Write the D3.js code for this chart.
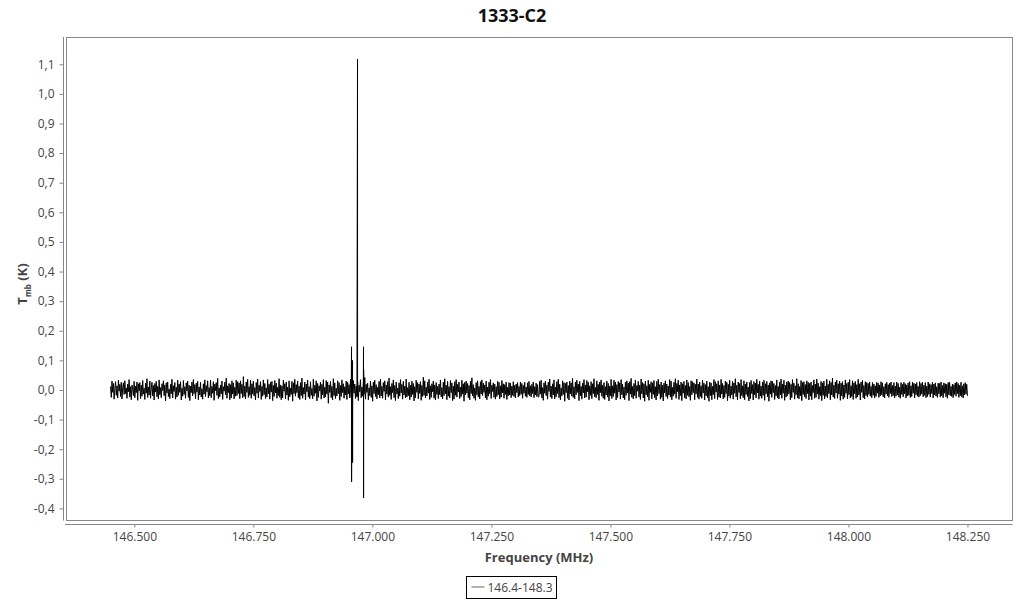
<!DOCTYPE html>
<html>
<head>
<meta charset="utf-8">
<script src="https://cdn.jsdelivr.net/npm/d3@7"></script>
<style>
  body { margin: 0; background: #fff; font-family: "Open Sans", sans-serif; }
</style>
</head>
<body>
<div id="plot"></div>
<script>
// spectrum 1333-C2, channels from 146.45 MHz, 1.5 kHz apart
const chartTitle = "1333-C2";
const seriesName = "146.4-148.3";
const freqStart = 146.45;
const channelWidth = 0.0015;
// baseline (noise) per channel, mK
const tmb_mK = [
  12,-25,30,-8,22,-31,5,28,-18,14,-27,33,-4,19,-22,26,-30,9,24,-15,
  31,-12,7,-28,20,-6,35,-24,11,-33,17,2,-19,29,-26,13,-9,27,-35,21,
  -3,25,-29,16,-21,32,-14,6,-32,23,-11,38,-25,10,-17,30,-28,4,26,-20,
  15,-34,22,-7,29,-23,12,-30,34,-16,8,-26,21,-2,31,-19,17,-37,24,-10,
  27,-22,3,-29,19,-13,36,-27,14,-5,25,-31,9,-24,33,-18,20,-8,28,-34,
  6,-21,32,-15,11,-28,24,-3,30,-25,16,-36,13,-9,27,-20,35,-12,18,-30,
  23,-7,29,-33,10,-17,26,-24,4,-31,21,-14,34,-22,15,-6,31,-27,8,-19,
  33,-26,12,-11,28,-35,20,-2,25,-18,39,-29,7,-23,17,-13,30,-32,11,-4,
  26,-16,40,-28,14,-9,22,-33,18,-27,31,-14,24,-30,9,-21,33,-19,28,-12,
  24,-29,31,-12,19,-26,45,-22,13,-30,27,-8,36,-25,11,-18,33,-28,21,-14,
  30,-20,8,-34,25,-11,37,-27,16,-5,28,-32,12,-21,34,-16,22,-29,7,-24,
  35,-13,19,-31,26,-7,29,-36,15,-22,32,-10,23,-28,9,-19,38,-25,17,-33,
  14,-27,33,-4,21,-30,27,-17,10,-35,31,-23,6,-15,29,-38,24,-12,36,-21,
  18,-9,30,-26,13,-32,25,-19,40,-28,8,-14,27,-34,20,-6,33,-24,11,-29,
  28,-18,5,-30,36,-21,16,-11,31,-37,22,-25,14,-3,26,-31,19,-16,35,-27,
  9,-23,32,-14,27,-45,17,-8,29,-26,12,-33,38,-19,24,-29,6,-20,31,-12,
  25,-35,15,-22,34,-9,21,-28,11,-17,30,-32,26,-13,18,-27,37,-23,8,-30,
  32,-11,20,-29,13,-24,28,-36,16,-6,35,-26,10,-21,27,-15,42,-31,19,-8,
  23,-33,7,-19,30,-25,14,-38,26,-12,33,-22,18,-30,9,-16,29,-27,36,-20,
  12,-28,25,-5,31,-34,17,-14,28,-24,40,-18,11,-32,22,-9,34,-26,15,-36,
  27,-13,6,-29,24,-21,35,-10,19,-31,29,-17,13,-27,37,-24,8,-19,26,-33,
  16,-24,30,-15,22,-37,11,-26,33,-8,25,-30,20,-12,28,-35,15,-22,43,-18,
  31,-27,9,-20,27,-11,36,-32,14,-25,21,-6,30,-28,17,-34,25,-15,12,-29,
  20,-16,34,-23,8,-30,26,-19,38,-13,16,-33,29,-21,11,-27,32,-9,24,-36,
  13,-31,28,-18,35,-24,19,-7,27,-29,10,-22,33,-14,21,-38,26,-17,30,-11,
  22,-26,15,-33,29,-12,41,-20,18,-28,7,-35,25,-16,31,-23,12,-30,28,-14,
  34,-19,23,-8,17,-27,30,-33,10,-21,26,-13,35,-29,16,-5,24,-25,20,-31,
  11,-22,29,-16,26,-30,14,-24,32,-10,21,-28,18,-15,27,-32,9,-20,25,-17,
  23,-26,13,-18,28,-22,16,-27,20,-9,25,-24,12,-19,27,-14,22,-28,15,-11,
  26,-21,10,-25,24,-15,29,-20,14,-23,19,-12,27,-26,11,-17,23,-22,18,-24,
  -22,29,-14,33,-27,8,-35,24,-11,30,-19,16,-31,26,-5,37,-24,13,-29,21,
  -17,34,-30,10,-23,28,-12,36,-26,19,-33,7,-20,31,-15,25,-38,22,-9,27,
  -28,15,-34,30,-13,24,-21,39,-25,11,-30,27,-16,33,-8,20,-36,29,-19,12,
  -31,23,-10,35,-27,17,-24,32,-6,26,-33,14,-18,28,-29,21,-12,38,-23,9,
  -26,31,-15,19,-35,27,-9,34,-21,16,-28,25,-32,11,-17,30,-24,22,-37,13,
  -20,36,-29,14,-22,33,-11,27,-34,18,-26,29,-7,24,-31,35,-16,20,-27,10,
  -33,26,-18,31,-10,23,-36,28,-14,39,-25,12,-30,22,-19,34,-28,15,-4,29,
  -24,17,-32,37,-13,25,-27,21,-38,30,-16,14,-23,33,-35,19,-8,28,-30,24,
  -15,32,-26,11,-34,29,-20,36,-12,18,-31,27,-25,16,-37,23,-10,31,-22,20,
  -29,13,-17,35,-24,30,-33,9,-21,26,-14,38,-28,22,-6,33,-32,17,-19,27,
  -36,21,-11,29,-27,15,-30,34,-18,25,-23,12,-35,31,-16,28,-9,24,-33,19,
  -13,37,-25,20,-31,27,-22,14,-28,33,-10,23,-34,18,-20,30,-26,11,-38,26,
  -19,24,-33,12,-16,35,-29,28,-7,21,-32,31,-24,17,-27,36,-14,22,-30,15,
  -25,30,-12,26,-36,19,-21,33,-28,13,-17,29,-31,24,-11,38,-23,16,-34,27,
  -8,22,-30,35,-19,14,-26,31,-33,20,-15,27,-22,10,-37,25,-29,32,-12,18,
  -34,28,-16,23,-27,36,-10,19,-31,30,-21,13,-28,26,-18,33,-35,21,-13,29,
  -23,17,-38,24,-14,31,-25,29,-9,22,-32,15,-20,34,-27,12,-30,27,-17,37,
  -28,20,-11,33,-35,16,-24,27,-19,30,-13,25,-33,19,-26,35,-8,23,-31,14,
  -16,38,-27,21,-30,12,-20,32,-36,25,-15,28,-23,18,-29,31,-12,26,-34,22,
  -21,27,-33,15,-9,34,-28,20,-25,37,-14,23,-31,11,-19,29,-36,24,-18,30,
  -30,13,-22,36,-26,19,-12,31,-33,25,-17,40,-24,16,-29,27,-10,33,-28,21,
  -14,30,-35,23,-20,28,-31,17,-25,34,-11,22,-30,26,-16,35,-27,14,-22,31,
  -32,24,-13,29,-28,18,-23,36,-17,21,-34,27,-8,32,-26,15,-30,28,-19,25,
  -24,22,-15,27,-21,12,-26,25,-18,20,-27,14,-22,26,-11,23,-25,17,-20,28,
  -16,24,-23,11,-27,21,-14,26,-20,18,-25,23,-12,27,-22,15,-19,25,-26,13,
  -21,27,-17,22,-24,10,-28,25,-15,19,-23,26,-13,21,-27,17,-20,24,-18,28,
  -25,14,-22,26,-11,23,-27,20,-16,25,-21,12,-24,28,-19,22,-14,26,-23,16,
  -18,25,-26,13,-22,27,-15,21,-24,18,-12,26,-27,20,-17,24,-21,11,-25,23,
  -13,22,-24,27,-20,15,-26,24,-11,21,-23,19,-28,25,-16,26,-19,12,-22,20,
  -26,18,-15,24,-21,27,-12,22,-25,16,-19,26,-23,14,-27,21,-17,25,-14,19,
  -20
];
// narrow line features near 146.96-146.98 MHz: frequency (MHz) and Tmb (K)
const lineFreqs = [146.9562, 146.9563, 146.9583, 146.9584, 146.9688, 146.9689, 146.9814, 146.9815, 146.9816];
const lineTmb   = [0.146, -0.310, 0.100, -0.245, 1.118, -0.020, 0.146, -0.365, 0.070];
const xTicks = [146.5, 146.75, 147.0, 147.25, 147.5, 147.75, 148.0, 148.25];
const yTicks = [-0.4, -0.3, -0.2, -0.1, 0.0, 0.1, 0.2, 0.3, 0.4, 0.5, 0.6, 0.7, 0.8, 0.9, 1.0, 1.1];

window.addEventListener("load", main);

function main(){
  const width = 1024, height = 600;
  const plotL = 66, plotR = 1012, plotT = 37, plotB = 520;
  const grey = "#888", labelGrey = "#444";

  const data = tmb_mK.map((v, i) => ({ f: freqStart + i * channelWidth, t: v / 1000 }))
    .concat(lineFreqs.map((f, i) => ({ f: f, t: lineTmb[i] })))
    .sort((a, b) => a.f - b.f);

  const locale = d3.formatLocale({ decimal: ",", thousands: ".", grouping: [3], currency: ["", ""], minus: "-" });
  const yFmt = locale.format(".1f");
  const xFmt = d3.format(".3f");

  // padding around data extent, like the original tool
  const fExt = d3.extent(data, d => d.f), tExt = d3.extent(data, d => d.t);
  const fPad = (fExt[1] - fExt[0]) * 0.052, tPad = (tExt[1] - tExt[0]) * 0.05;
  const x = d3.scaleLinear().domain([fExt[0] - fPad, fExt[1] + fPad]).range([plotL, plotR]);
  const y = d3.scaleLinear().domain([tExt[0] - tPad, tExt[1] + tPad]).range([plotB, plotT]);

  let svg = d3.select("#plot").append("svg")
    .attr("width", width)
    .attr("height", height)
    .style("font-family", "'Open Sans', sans-serif");

  // title
  svg.append("text")
    .attr("x", 512).attr("y", 22)
    .attr("text-anchor", "middle")
    .style("font-size", "18px").style("font-weight", "bold").style("fill", "#111")
    .text(chartTitle);

  // plot frame
  svg.append("rect")
    .attr("x", plotL + 0.5).attr("y", plotT + 0.5)
    .attr("width", plotR - plotL).attr("height", plotB - plotT)
    .attr("fill", "none").attr("stroke", grey);

  // axes, offset from the frame
  let yAxis = svg.append("g")
    .attr("transform", "translate(63.5,0)")
    .call(d3.axisLeft(y).tickValues(yTicks).tickFormat(yFmt).tickSize(4).tickPadding(5).tickSizeOuter(0));
  let xAxis = svg.append("g")
    .attr("transform", "translate(0,524.5)")
    .call(d3.axisBottom(x).tickValues(xTicks).tickFormat(xFmt).tickSize(3).tickPadding(5).tickSizeOuter(0));

  [xAxis, yAxis].forEach(a => {
    a.select(".domain").attr("stroke", grey);
    a.selectAll(".tick line").attr("stroke", grey);
    a.selectAll(".tick text").style("font-size", "12px").style("fill", labelGrey)
      .style("font-family", "'Open Sans', sans-serif");
  });
  yAxis.select(".domain").attr("d", `M0,${plotT}V${plotB + 0.5}`);
  xAxis.select(".domain").attr("d", `M${plotL - 1},0H${plotR + 0.5}`);

  // axis titles
  svg.append("text")
    .attr("x", (plotL + plotR) / 2).attr("y", 562)
    .attr("text-anchor", "middle")
    .style("font-size", "13px").style("font-weight", "bold").style("fill", labelGrey)
    .text("Frequency (MHz)");

  let yTitle = svg.append("text")
    .attr("transform", "translate(27,284) rotate(-90)")
    .attr("text-anchor", "middle")
    .style("font-size", "13px").style("font-weight", "bold").style("fill", labelGrey);
  yTitle.append("tspan").text("T");
  yTitle.append("tspan").attr("dy", 4).style("font-size", "8px").text("mb");
  yTitle.append("tspan").attr("dy", -4).text(" (K)");

  // spectrum
  svg.append("path")
    .datum(data)
    .attr("fill", "none")
    .attr("stroke", "#000")
    .attr("stroke-width", 1)
    .attr("d", d3.line().x(d => x(d.f)).y(d => y(d.t)));

  // legend
  let legend = svg.append("g").attr("transform", "translate(466.5,576.5)");
  legend.append("rect").attr("width", 90).attr("height", 22)
    .attr("fill", "#fff").attr("stroke", "#000");
  legend.append("line").attr("x1", 5).attr("x2", 18).attr("y1", 10.5).attr("y2", 10.5)
    .attr("stroke", "#666");
  legend.append("text").attr("x", 21).attr("y", 15.5)
    .style("font-size", "12px").style("fill", labelGrey)
    .text(seriesName);
}
</script>
</body>
</html>
